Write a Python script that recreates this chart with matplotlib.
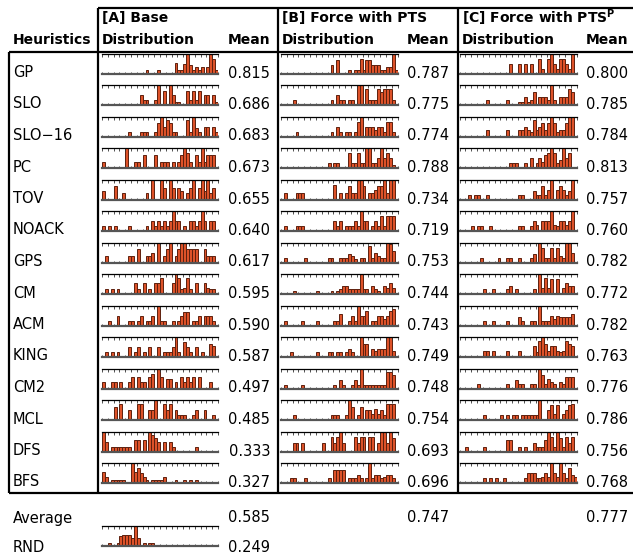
import matplotlib
matplotlib.use("Agg")
import matplotlib.pyplot as plt
from matplotlib.lines import Line2D
import numpy as np

W, H = 633, 556
NBINS = 40

heuristics = ["GP", "SLO", "SLO\u221216", "PC", "TOV", "NOACK", "GPS", "CM", "ACM",
              "KING", "CM2", "MCL", "DFS", "BFS"]

mean_A = [0.815, 0.686, 0.683, 0.673, 0.655, 0.640, 0.617, 0.595, 0.590, 0.587, 0.497, 0.485, 0.333, 0.327]
mean_B = [0.787, 0.775, 0.774, 0.788, 0.734, 0.719, 0.753, 0.744, 0.743, 0.749, 0.748, 0.754, 0.693, 0.696]
mean_C = [0.800, 0.785, 0.784, 0.813, 0.757, 0.760, 0.782, 0.772, 0.782, 0.763, 0.776, 0.786, 0.756, 0.768]
avg_means = [0.585, 0.747, 0.777]
rnd_mean = 0.249

# histogram bin heights (bin index -> relative frequency), 40 bins over [0, 1]
dist_A = {
    "GP": {15: 1, 19: 1, 25: 3.3, 26: 1, 27: 1, 28: 3, 29: 6, 30: 2.5, 31: 1, 32: 2, 33: 1, 34: 2, 36: 2, 37: 6, 38: 4.5, 39: 1},
    "SLO": {13: 3, 14: 1.5, 15: 1.5, 18: 1.5, 19: 6, 21: 4.3, 23: 6, 24: 3, 25: 1, 26: 1, 29: 4.3, 30: 1.5, 31: 4.3, 32: 1.5, 33: 4.3, 35: 3, 36: 3, 38: 3, 39: 1},
    "SLO\u221216": {9: 1.5, 13: 1.5, 14: 1.5, 15: 1.5, 18: 1.5, 19: 4, 20: 6, 21: 3, 22: 5, 23: 4, 24: 1.5, 25: 1.5, 29: 5, 30: 1.5, 31: 6, 32: 2.5, 33: 1.5, 35: 3, 36: 3, 38: 3, 39: 1.5},
    "PC": {0: 2, 8: 6, 11: 2, 12: 2, 14: 4, 18: 4, 20: 2, 21: 2, 22: 2, 24: 2, 26: 2, 27: 4, 28: 6, 29: 4.5, 30: 2, 32: 4, 33: 2, 34: 6, 35: 2, 36: 4, 37: 4, 38: 4},
    "TOV": {0: 2.5, 4: 4, 7: 2, 15: 2, 17: 6, 20: 6, 21: 3.5, 23: 6, 24: 3.5, 26: 3.5, 27: 2.5, 29: 2, 30: 3.5, 31: 6, 33: 3.5, 34: 6, 35: 2.5, 36: 6, 37: 2, 38: 3.5},
    "NOACK": {0: 1.5, 2: 1.5, 4: 1.5, 9: 1.5, 15: 1.5, 17: 3, 18: 1.5, 19: 3, 20: 1.5, 21: 3, 22: 1.5, 23: 3, 24: 6, 25: 3, 26: 3, 28: 1.5, 30: 3, 31: 3, 32: 1.5, 33: 3, 34: 6, 35: 3, 37: 3, 38: 3},
    "GPS": {1: 2, 9: 2, 10: 2, 12: 4, 15: 2, 16: 2, 17: 3, 19: 6, 21: 2, 22: 4, 23: 6, 25: 2, 26: 4, 27: 6, 28: 6, 29: 4, 30: 4, 31: 4, 32: 4, 35: 4, 36: 2, 37: 2, 38: 2},
    "CM": {1: 1.5, 3: 1.5, 5: 1.5, 11: 3.5, 12: 1.5, 14: 3.5, 16: 1.5, 18: 3.5, 19: 3.5, 20: 5, 24: 3.5, 25: 6, 26: 5, 27: 1.5, 28: 2, 29: 5, 30: 1.5, 32: 3.5, 35: 3.5, 36: 2, 37: 1.5, 38: 1.5},
    "ACM": {2: 1.5, 5: 3, 9: 1.5, 10: 1.5, 12: 1.5, 13: 3, 15: 1.5, 16: 1.5, 17: 3, 19: 6, 20: 1.5, 21: 1.5, 24: 1.5, 26: 1.5, 27: 3, 28: 4, 29: 4, 31: 1.5, 32: 1.5, 33: 3, 35: 3, 36: 3, 37: 3, 38: 1.5},
    "KING": {1: 1.5, 3: 1.5, 5: 1.5, 9: 3, 11: 1.5, 12: 3, 14: 1.5, 16: 3, 19: 3, 21: 1.5, 22: 1.5, 23: 1.5, 24: 3, 25: 6, 26: 1.5, 28: 4.5, 29: 3, 30: 1.5, 32: 3, 34: 1.5, 37: 4, 38: 3.5},
    "CM2": {0: 2, 3: 2, 4: 2, 6: 2, 9: 2, 10: 3.5, 12: 3.5, 13: 2, 14: 2, 16: 3.5, 17: 4.5, 19: 6, 20: 3.5, 22: 3, 23: 3, 25: 2, 27: 3.5, 28: 2, 29: 3.5, 30: 2, 31: 3.5, 33: 3.5, 37: 2},
    "MCL": {4: 4, 6: 5, 9: 3, 12: 5, 13: 5, 16: 3, 17: 3, 18: 6, 21: 5, 22: 3, 23: 5, 25: 3, 26: 1.5, 27: 1.5, 28: 1.5, 31: 1.5, 32: 3, 35: 3, 38: 1.5},
    "DFS": {0: 6, 1: 3, 3: 1.5, 4: 1.5, 5: 1.5, 6: 1.5, 7: 1.5, 8: 1.5, 9: 1.5, 11: 3.5, 12: 3.5, 14: 3.5, 16: 6, 17: 5, 18: 4, 19: 3, 21: 3, 23: 3, 24: 1.5, 32: 1.5},
    "BFS": {0: 3.5, 1: 2, 3: 1, 4: 1, 5: 1, 6: 1, 7: 1, 10: 6, 11: 3.5, 12: 4.5, 13: 3, 14: 2, 15: 1, 17: 1, 18: 1, 19: 1, 20: 1, 21: 2, 25: 1, 28: 1, 30: 1, 32: 1},
}
dist_B = {
    "GP": {17: 2.5, 19: 4, 23: 1, 25: 1, 26: 1, 27: 4.5, 28: 1, 29: 4, 30: 4, 31: 2.5, 32: 2.5, 33: 2.5, 34: 1, 35: 1, 36: 2, 37: 2, 38: 6, 39: 1},
    "SLO": {4: 1.5, 17: 1.5, 19: 3, 20: 1.5, 21: 1.5, 23: 1.5, 24: 1.5, 26: 6, 27: 6, 29: 5, 30: 1.5, 31: 1.5, 32: 1.5, 33: 5, 34: 4, 35: 5, 36: 5, 37: 5, 38: 1.5},
    "SLO\u221216": {5: 1.5, 17: 1.5, 19: 3, 20: 1.5, 22: 1.5, 23: 1.5, 25: 1.5, 26: 4.5, 27: 6, 29: 3, 30: 3, 31: 3, 32: 2, 33: 3, 34: 3, 35: 1.5, 36: 4.5, 37: 4.5, 38: 1.5},
    "PC": {16: 1.5, 18: 1.5, 19: 1.5, 23: 4.5, 24: 1.5, 25: 1.5, 26: 4.5, 27: 1.5, 28: 1.5, 29: 6, 30: 6, 31: 1.5, 32: 1.5, 33: 3, 34: 6, 35: 3, 36: 4.5, 37: 3, 38: 1},
    "TOV": {1: 2, 5: 2, 6: 2, 7: 2, 18: 4.5, 20: 2, 22: 2, 23: 4, 24: 2, 25: 2, 26: 6, 27: 6, 28: 4, 30: 2, 31: 2, 32: 3, 33: 4, 34: 4, 35: 6, 36: 2, 37: 6, 38: 6},
    "NOACK": {1: 1.5, 5: 1.5, 6: 1.5, 7: 1.5, 18: 3, 19: 1.5, 20: 3, 22: 1.5, 23: 1.5, 24: 1.5, 25: 3, 26: 1.5, 27: 6, 28: 3, 29: 3, 31: 1.5, 32: 3, 33: 1.5, 34: 4.5, 35: 1.5, 36: 4.5, 37: 4.5, 38: 4.5},
    "GPS": {1: 1.5, 8: 1.5, 16: 1.5, 17: 1.5, 20: 1.5, 21: 1.5, 22: 1.5, 23: 2.5, 24: 2, 25: 1, 27: 1.5, 28: 1.5, 30: 5, 31: 1.5, 32: 3, 33: 2, 34: 1.5, 35: 1.5, 36: 6, 37: 5.5, 38: 3.5},
    "CM": {4: 1, 12: 1, 17: 1, 19: 1, 20: 1.5, 21: 2.5, 22: 2.5, 23: 1.5, 24: 1.5, 25: 1.5, 26: 1.5, 27: 6, 28: 1.5, 29: 1.5, 31: 2.5, 32: 1.5, 33: 1, 35: 2.5, 36: 2, 37: 3.5, 38: 2},
    "ACM": {1: 1.5, 7: 1.5, 12: 1.5, 18: 1.5, 19: 1.5, 20: 3.5, 23: 1.5, 24: 3, 25: 1.5, 26: 6, 27: 3, 28: 3, 29: 4.5, 31: 1.5, 32: 1.5, 33: 3, 34: 3, 35: 2, 36: 3, 37: 4.5, 38: 5},
    "KING": {3: 1.5, 12: 1.5, 16: 1.5, 17: 1.5, 19: 1.5, 20: 1.5, 22: 1.5, 23: 2.5, 24: 1.5, 27: 6, 28: 4, 29: 4, 31: 2.5, 32: 2, 33: 2.5, 34: 2.5, 35: 2.5, 36: 6, 37: 6, 38: 2},
    "CM2": {1: 1, 7: 1, 18: 1, 20: 2.5, 21: 1, 24: 1, 25: 2.5, 26: 1, 27: 6, 28: 1, 29: 1, 30: 1, 31: 1, 32: 1, 33: 1, 34: 1, 35: 1, 36: 5, 37: 5, 38: 4},
    "MCL": {4: 1.5, 17: 1.5, 18: 1.5, 19: 1.5, 22: 1.5, 23: 6, 24: 4, 26: 1.5, 27: 4, 29: 3, 30: 3, 31: 2, 32: 3.5, 33: 2, 34: 3, 35: 1.5, 36: 5, 37: 5, 38: 5},
    "DFS": {4: 2.5, 5: 2.5, 7: 2.5, 14: 2.5, 17: 4.5, 18: 2.5, 19: 4.5, 20: 6, 21: 2.5, 25: 4.5, 26: 2.5, 27: 4.5, 28: 4.5, 30: 4.5, 31: 4.5, 33: 2.5, 34: 6, 35: 6, 36: 2.5, 37: 6, 38: 4},
    "BFS": {3: 1.5, 4: 1.5, 8: 1.5, 16: 1.5, 18: 4, 19: 4, 20: 4, 21: 4, 23: 1.5, 24: 1.5, 25: 1.5, 26: 2.5, 27: 1.5, 29: 1.5, 30: 6, 31: 1.5, 32: 2.5, 33: 2.5, 34: 1.5, 35: 2, 36: 2.5, 37: 2.5, 38: 1.5},
}
dist_C = {
    "GP": {17: 3, 20: 3, 22: 3, 24: 3, 27: 4.5, 28: 1.5, 30: 4.5, 31: 6, 32: 3, 33: 1.5, 34: 4.5, 35: 4.5, 36: 3, 37: 1.5, 38: 6},
    "SLO": {9: 1.5, 16: 1.5, 20: 1, 21: 1, 22: 2.5, 23: 1, 24: 1.5, 25: 4, 27: 2.5, 28: 2.5, 29: 2.5, 30: 1.5, 31: 6, 32: 1.5, 34: 2.5, 35: 2.5, 36: 2.5, 37: 5, 38: 4},
    "SLO\u221216": {9: 2, 16: 2, 20: 2, 21: 2, 22: 3, 23: 2, 24: 1.5, 25: 5, 26: 2, 27: 3, 28: 4, 29: 2, 30: 4, 31: 6, 32: 4, 33: 1.5, 34: 2, 35: 2, 36: 4, 37: 6, 38: 6},
    "PC": {17: 1.5, 18: 1.5, 19: 1.5, 22: 1.5, 24: 3, 26: 1.5, 27: 3, 28: 2, 29: 4, 30: 4.5, 31: 6, 32: 4.5, 33: 1.5, 34: 2.5, 35: 6, 36: 3, 37: 4.5},
    "TOV": {3: 1.5, 5: 1.5, 6: 1.5, 9: 1.5, 20: 1.5, 21: 1.5, 25: 2.5, 26: 1.5, 27: 1.5, 28: 4, 29: 1.5, 30: 3, 31: 6, 33: 3, 34: 4, 35: 3, 36: 1.5, 37: 2.5, 38: 6},
    "NOACK": {4: 1.5, 6: 1.5, 7: 1.5, 10: 1.5, 20: 1.5, 21: 1.5, 24: 1.5, 25: 3, 26: 2, 28: 3, 29: 3, 30: 3, 31: 6, 32: 2, 33: 1.5, 34: 3, 35: 3, 36: 2, 37: 3, 38: 6},
    "GPS": {7: 1.5, 13: 1.5, 16: 1.5, 17: 1.5, 20: 1.5, 24: 1.5, 25: 2.5, 27: 6, 28: 4.5, 29: 1.5, 30: 1.5, 31: 4.5, 32: 1.5, 33: 4.5, 34: 2, 35: 1.5, 36: 6, 37: 6, 38: 3},
    "CM": {8: 1.5, 11: 1.5, 16: 1.5, 17: 2.5, 19: 1.5, 25: 1.5, 27: 6, 28: 2, 29: 5, 30: 2, 31: 4.5, 33: 4.5, 35: 2, 36: 3.5, 37: 2.5, 38: 2.5},
    "ACM": {8: 1.5, 11: 1.5, 16: 1.5, 20: 2.5, 21: 1.5, 24: 1.5, 25: 1.5, 27: 6, 28: 1.5, 29: 1.5, 30: 1.5, 31: 3, 32: 2, 33: 3, 34: 2.5, 35: 2.5, 36: 2.5, 37: 2.5, 38: 3.5},
    "KING": {8: 2, 9: 2, 11: 2, 16: 2, 20: 2, 25: 3.5, 26: 1.5, 27: 5, 28: 6, 29: 4, 30: 2, 31: 3.5, 32: 3.5, 33: 2, 34: 1.5, 35: 2, 36: 5, 37: 4, 38: 3.5},
    "CM2": {6: 1.5, 16: 1.5, 19: 2.5, 20: 1.5, 21: 1.5, 24: 1.5, 25: 1.5, 27: 6, 28: 4, 29: 1.5, 30: 3, 31: 2, 32: 1.5, 34: 2, 35: 1.5, 36: 3.5, 37: 3.5, 38: 3.5},
    "MCL": {8: 1.5, 14: 1.5, 16: 1.5, 18: 1.5, 19: 1.5, 21: 1.5, 22: 1.5, 23: 1.5, 24: 1.5, 25: 1.5, 26: 1.5, 27: 6, 30: 3, 31: 4.5, 32: 2, 33: 4.5, 35: 2, 36: 3, 37: 4.5, 38: 5},
    "DFS": {2: 1.5, 8: 1.5, 16: 3.5, 17: 3.5, 20: 1.5, 22: 1.5, 25: 2.5, 26: 1.5, 27: 1.5, 28: 1.5, 29: 3.5, 30: 6, 31: 4.5, 32: 1.5, 33: 6, 34: 4, 35: 1.5, 36: 4.5, 37: 2.5, 38: 4.5},
    "BFS": {8: 1.5, 10: 1.5, 12: 1.5, 15: 1.5, 22: 1.5, 23: 3, 24: 3, 25: 3, 26: 1.5, 27: 1.5, 28: 2, 29: 3, 30: 2, 31: 6, 32: 3, 33: 2, 34: 6, 35: 3, 36: 1.5, 37: 4.5, 38: 2.5, 39: 2},
}
dist_RND = {2: 1, 5: 1, 6: 3, 7: 3.5, 8: 3.5, 9: 3.5, 10: 2.5, 11: 6, 12: 2.5, 14: 1, 16: 1, 17: 1}

col_titles = ["[A] Base", "[B] Force with PTS", r"[C] Force with PTS$^{\mathbf{P}}$"]

# ---------------------------------------------------------------- layout
plt.rcParams["font.family"] = ["DejaVu Sans"]
fig = plt.figure(figsize=(W / 100, H / 100), dpi=100)

def fx(px):
    return px / W

def fy(py):
    return 1 - py / H

def hline(y, x0, x1, lw=1.6):
    fig.add_artist(Line2D([fx(x0), fx(x1)], [fy(y), fy(y)], color="black", lw=lw,
                          transform=fig.transFigure, solid_capstyle="butt"))

def vline(x, y0, y1, lw=1.6):
    fig.add_artist(Line2D([fx(x), fx(x)], [fy(y0), fy(y1)], color="black", lw=lw,
                          transform=fig.transFigure, solid_capstyle="butt"))

ROW0 = 52.0
PITCH = 31.5
TABLE_BOTTOM = ROW0 + PITCH * len(heuristics)

col_left = [98, 278, 458]
hist_x = [(102, 218), (281, 397.5), (459.5, 576.5)]
mean_right = [270, 449, 628]

hline(8, 98, W)
hline(52, 8.5, W)
hline(TABLE_BOTTOM, 8.5, W)
for x in col_left:
    vline(x, 8, TABLE_BOTTOM)
vline(9, 52, TABLE_BOTTOM)

FS = 10.5
fig.text(fx(13), fy(40.5), "Heuristics", fontsize=10, fontweight="bold", va="center", ha="left")
for i, t in enumerate(col_titles):
    fig.text(fx(col_left[i] + 3.5), fy(18), t, fontsize=10, fontweight="bold", va="center", ha="left")
    fig.text(fx(col_left[i] + 3.5), fy(40.5), "Distribution", fontsize=10, fontweight="bold",
             va="center", ha="left")
    fig.text(fx(mean_right[i]), fy(40.5), "Mean", fontsize=10, fontweight="bold", va="center", ha="right")

BAR_FACE = "#DD5229"
BAR_EDGE = "#5E200E"

def mini_hist(x0, x1, top, bottom, d):
    ax = fig.add_axes([fx(x0), fy(bottom), fx(x1) - fx(x0), (bottom - top) / H])
    vals = np.zeros(NBINS)
    for k, v in d.items():
        vals[k] = v
    ax.bar(np.arange(NBINS), vals, width=1.0, align="edge", color=BAR_FACE,
           edgecolor=BAR_EDGE, linewidth=0.7)
    ax.set_xlim(0, NBINS)
    ax.set_ylim(0, vals.max())
    for s in ["left", "right"]:
        ax.spines[s].set_visible(False)
    ax.spines["top"].set_color("black")
    ax.spines["top"].set_linewidth(0.9)
    ax.spines["bottom"].set_color("#555555")
    ax.spines["bottom"].set_linewidth(1.6)
    ax.set_yticks([])
    ax.set_xticks(np.arange(0, NBINS + 1, 2))
    ax.tick_params(axis="x", which="major", direction="in", top=True, bottom=True,
                   length=1.8, width=0.6, color="#333333", labelbottom=False, labeltop=False)
    ax.patch.set_alpha(0)
    return ax

dists = [dist_A, dist_B, dist_C]
means = [mean_A, mean_B, mean_C]
for r, name in enumerate(heuristics):
    rt = ROW0 + PITCH * r
    fig.text(fx(13), fy(rt + 20.5), name, fontsize=FS, va="center", ha="left")
    for c in range(3):
        mini_hist(hist_x[c][0], hist_x[c][1], rt + 1.8, rt + 21.7, dists[c][name])
        fig.text(fx(mean_right[c]), fy(rt + 21), f"{means[c][r]:.3f}", fontsize=FS,
                 va="center", ha="right")

# Average row
ya = TABLE_BOTTOM + 25
fig.text(fx(13), fy(ya), "Average", fontsize=FS, va="center", ha="left")
for c in range(3):
    fig.text(fx(mean_right[c]), fy(ya), f"{avg_means[c]:.3f}", fontsize=FS, va="center", ha="right")

# RND row
rt = TABLE_BOTTOM + PITCH
mini_hist(hist_x[0][0], hist_x[0][1], rt + 1.8, rt + 21.7, dist_RND)
fig.text(fx(13), fy(rt + 23.5), "RND", fontsize=FS, va="center", ha="left")
fig.text(fx(mean_right[0]), fy(rt + 23.5), f"{rnd_mean:.3f}", fontsize=FS, va="center", ha="right")

fig.savefig("out.png", dpi=100)
